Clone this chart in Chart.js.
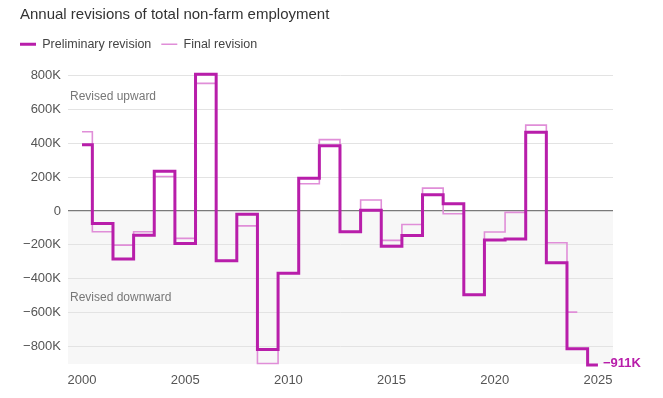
<!DOCTYPE html>
<html>
<head>
<meta charset="utf-8">
<script src="https://cdn.jsdelivr.net/npm/chart.js@4.4.1/dist/chart.umd.min.js"></script>
<style>
  html, body { margin: 0; padding: 0; background: #fff; }
  #wrap { width: 663px; height: 398px; }
</style>
</head>
<body>
<div id="wrap"><canvas id="revisionsChart"></canvas></div>
<script>
  // data, in thousands of jobs
  const years = [2000, 2001, 2002, 2003, 2004, 2005, 2006, 2007, 2008, 2009, 2010, 2011, 2012,
    2013, 2014, 2015, 2016, 2017, 2018, 2019, 2020, 2021, 2022, 2023, 2024, 2025];
  const preliminary = [392, -74, -284, -143, 235, -192, 808, -294, -20, -819, -368, 194, 386,
    -123, 4, -208, -145, 96, 43, -495, -172, -166, 465, -306, -815, -911];
  const finalRev = [469, -123, -202, -123, 204, -162, 755, -294, -88, -902, -368, 161, 422,
    -123, 65, -174, -80, 135, -16, -497, -124, -8, 508, -188, -598, null];
  const yTicks = [800, 600, 400, 200, 0, -200, -400, -600, -800];
  const xTicks = [2000, 2005, 2010, 2015, 2020, 2025];

  const thick = '#b81eaa';
  const thin = '#e08ed8';
  const font = "'Liberation Sans', Arial, sans-serif";

  function fmtK(v) {
    if (v === 0) return '0';
    return (v < 0 ? '\u2212' : '') + Math.abs(v) + 'K';
  }

  function toPoints(vals) {
    var pts = [];
    years.forEach(function (yr, i) {
      if (vals[i] !== null) pts.push({ x: yr, y: vals[i] });
    });
    return pts;
  }

  // grey band below zero + text notes
  const notes = {
    id: 'notes',
    afterLayout: function (chart) {
      // line the legend up with the title
      chart.legend.left -= 10;
    },
    beforeDraw: function (chart) {
      const ctx = chart.ctx, a = chart.chartArea, y = chart.scales.y;
      ctx.save();
      ctx.fillStyle = '#f7f7f7';
      ctx.fillRect(a.left, y.getPixelForValue(0), a.right - a.left, a.bottom - y.getPixelForValue(0));
      ctx.restore();
    },
    beforeDatasetsDraw: function (chart) {
      const ctx = chart.ctx, a = chart.chartArea, y = chart.scales.y;
      ctx.save();
      ctx.font = '12px ' + font;
      ctx.fillStyle = '#777';
      ctx.textBaseline = 'middle';
      ctx.fillText('Revised upward', a.left + 2, y.getPixelForValue(675));
      ctx.fillText('Revised downward', a.left + 2, y.getPixelForValue(-514));
      ctx.restore();
    },
    afterDatasetsDraw: function (chart) {
      const ctx = chart.ctx, x = chart.scales.x, y = chart.scales.y;
      const last = preliminary.length - 1;
      ctx.save();
      ctx.font = 'bold 13px ' + font;
      ctx.fillStyle = thick;
      ctx.textBaseline = 'middle';
      ctx.fillText(fmtK(preliminary[last]), x.getPixelForValue(years[last]) + 5, y.getPixelForValue(preliminary[last]) - 2);
      ctx.restore();
    }
  };

  new Chart(document.getElementById('revisionsChart'), {
    type: 'line',
    data: {
      datasets: [{
        label: 'Preliminary revision',
        data: toPoints(preliminary),
        borderColor: thick,
        backgroundColor: thick,
        borderWidth: 3,
        stepped: 'middle',
        pointRadius: 0,
        borderJoinStyle: 'miter',
        clip: false
      }, {
        label: 'Final revision',
        data: toPoints(finalRev),
        borderColor: thin,
        backgroundColor: thin,
        borderWidth: 1.6,
        stepped: 'middle',
        pointRadius: 0,
        borderJoinStyle: 'miter',
        clip: false
      }]
    },
    options: {
      responsive: true,
      maintainAspectRatio: false,
      animation: false,
      layout: { padding: { left: 20, right: 50, top: 4, bottom: 0 } },
      plugins: {
        title: {
          display: true,
          text: 'Annual revisions of total non-farm employment',
          align: 'start',
          color: '#333',
          font: { size: 15, family: font, weight: 'normal' },
          padding: { top: 2, bottom: 4 }
        },
        legend: {
          align: 'start',
          labels: {
            usePointStyle: true,
            pointStyle: 'line',
            pointStyleWidth: 16,
            color: '#444',
            font: { size: 12.5, family: font },
            padding: 10
          }
        },
        tooltip: { enabled: false }
      },
      scales: {
        x: {
          type: 'linear',
          min: 1999.32,
          max: 2025.73,
          afterFit: function (s) { s.height = 34; },
          afterBuildTicks: function (s) { s.ticks = xTicks.map(function (v) { return { value: v }; }); },
          ticks: {
            padding: 9,
            color: '#555',
            font: { size: 13, family: font },
            callback: function (v) { return String(v); }
          },
          grid: { display: false, drawTicks: false },
          border: { display: false }
        },
        y: {
          min: -905,
          max: 890,
          afterFit: function (s) { s.width = 48; },
          afterBuildTicks: function (s) { s.ticks = yTicks.map(function (v) { return { value: v }; }); },
          ticks: {
            padding: 7,
            color: '#555',
            font: { size: 13, family: font },
            callback: fmtK
          },
          grid: {
            drawTicks: false,
            color: function (c) { return c.tick && c.tick.value === 0 ? '#7a7a7a' : '#e3e3e3'; },
            lineWidth: function (c) { return c.tick && c.tick.value === 0 ? 1.3 : 1; }
          },
          border: { display: false }
        }
      }
    },
    plugins: [notes]
  });
</script>
</body>
</html>
